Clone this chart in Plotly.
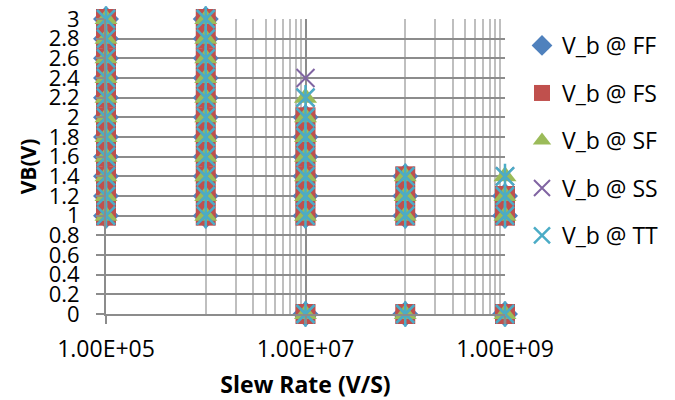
import plotly.graph_objects as go

# Slew rates (V/S) and the VB values (V) marked for each process corner
slew_rates = [1e5, 1e6, 1e7, 1e8, 1e9]

vb_ff = {
    1e5: [1.0, 1.2, 1.4, 1.6, 1.8, 2.0, 2.2, 2.4, 2.6, 2.8, 3.0],
    1e6: [1.0, 1.2, 1.4, 1.6, 1.8, 2.0, 2.2, 2.4, 2.6, 2.8, 3.0],
    1e7: [0.0, 1.0, 1.2, 1.4, 1.6, 1.8, 2.0],
    1e8: [0.0, 1.0, 1.2, 1.4],
    1e9: [0.0, 1.0, 1.2],
}
vb_fs = {
    1e5: [1.0, 1.2, 1.4, 1.6, 1.8, 2.0, 2.2, 2.4, 2.6, 2.8, 3.0],
    1e6: [1.0, 1.2, 1.4, 1.6, 1.8, 2.0, 2.2, 2.4, 2.6, 2.8, 3.0],
    1e7: [0.0, 1.0, 1.2, 1.4, 1.6, 1.8, 2.0],
    1e8: [0.0, 1.0, 1.2, 1.4],
    1e9: [0.0, 1.0, 1.2],
}
vb_sf = {
    1e5: [1.0, 1.2, 1.4, 1.6, 1.8, 2.0, 2.2, 2.4, 2.6, 2.8, 3.0],
    1e6: [1.0, 1.2, 1.4, 1.6, 1.8, 2.0, 2.2, 2.4, 2.6, 2.8, 3.0],
    1e7: [0.0, 1.0, 1.2, 1.4, 1.6, 1.8, 2.0, 2.2],
    1e8: [0.0, 1.0, 1.2, 1.4],
    1e9: [0.0, 1.0, 1.2, 1.4],
}
vb_ss = {
    1e5: [1.0, 1.2, 1.4, 1.6, 1.8, 2.0, 2.2, 2.4, 2.6, 2.8, 3.0],
    1e6: [1.0, 1.2, 1.4, 1.6, 1.8, 2.0, 2.2, 2.4, 2.6, 2.8, 3.0],
    1e7: [0.0, 1.0, 1.2, 1.4, 1.6, 1.8, 2.0, 2.2, 2.4],
    1e8: [0.0, 1.0, 1.2, 1.4],
    1e9: [0.0, 1.0, 1.2, 1.4],
}
vb_tt = {
    1e5: [1.0, 1.2, 1.4, 1.6, 1.8, 2.0, 2.2, 2.4, 2.6, 2.8, 3.0],
    1e6: [1.0, 1.2, 1.4, 1.6, 1.8, 2.0, 2.2, 2.4, 2.6, 2.8, 3.0],
    1e7: [0.0, 1.0, 1.2, 1.4, 1.6, 1.8, 2.0, 2.2],
    1e8: [0.0, 1.0, 1.2, 1.4],
    1e9: [0.0, 1.0, 1.2, 1.4],
}

series_names = ["V_b @ FF", "V_b @ FS", "V_b @ SF", "V_b @ SS", "V_b @ TT"]
series_data = [vb_ff, vb_fs, vb_sf, vb_ss, vb_tt]

x_tickvals = [1e5, 1e7, 1e9]
x_ticktext = ["1.00E+05", "1.00E+07", "1.00E+09"]
x_minorvals = [1e6, 2e6, 3e6, 4e6, 5e6, 6e6, 7e6, 8e6, 9e6,
               1e8, 2e8, 3e8, 4e8, 5e8, 6e8, 7e8, 8e8, 9e8]
y_tickvals = [0, 0.2, 0.4, 0.6, 0.8, 1, 1.2, 1.4, 1.6, 1.8, 2, 2.2, 2.4, 2.6, 2.8, 3]
y_ticktext = ["0", "0.2", "0.4", "0.6", "0.8", "1", "1.2", "1.4", "1.6", "1.8",
              "2", "2.2", "2.4", "2.6", "2.8", "3"]


def flatten(d):
    xs, ys = [], []
    for s in slew_rates:
        for v in d.get(s, []):
            xs.append(s)
            ys.append(v)
    return xs, ys


styles = [
    dict(symbol="diamond", size=20, color="#4F81BD"),
    dict(symbol="square", size=20, color="#C0504D"),
    dict(symbol="triangle-up", size=20, color="#9BBB59"),
    dict(symbol="x-thin-open", size=18, color="#8064A2", line=dict(width=2, color="#8064A2")),
    dict(symbol="x-thin-open", size=18, color="#4BACC6", line=dict(width=2.5, color="#4BACC6")),
]

FONT = "Open Sans"
fig = go.Figure()
for i, (name, d, st) in enumerate(zip(series_names, series_data, styles)):
    xs, ys = flatten(d)
    fig.add_trace(go.Scatter(x=xs, y=ys, mode="markers", name=name,
                             legendgroup=name, marker=st, cliponaxis=False))
    if i == 4:
        fig.add_trace(go.Scatter(x=xs, y=ys, mode="markers", name=name,
                                 legendgroup=name, showlegend=False,
                                 marker=dict(symbol="line-ns-open", size=18, color="#4BACC6",
                                             line=dict(width=2.5, color="#4BACC6")),
                                 cliponaxis=False))

fig.update_layout(
    width=675, height=400,
    margin=dict(l=106, r=169, t=19, b=86),
    paper_bgcolor="white", plot_bgcolor="white",
    font=dict(family=FONT, size=22, color="black"),
    showlegend=True,
    legend=dict(x=1.04, y=0.983, xanchor="left", yanchor="top",
                font=dict(family=FONT, size=23), traceorder="grouped",
                tracegroupgap=14.6, itemsizing="trace", bgcolor="rgba(0,0,0,0)"),
    xaxis=dict(type="log", range=[5, 9], tickvals=x_tickvals, ticktext=x_ticktext,
               tickfont=dict(family=FONT, size=23), automargin=False,
               showgrid=True, gridcolor="#8C8C8C", gridwidth=2,
               ticks="outside", ticklen=8, tickcolor="#8C8C8C", tickwidth=2,
               showline=True, linecolor="#8C8C8C", linewidth=2,
               ticklabelstandoff=5,
               minor=dict(tickvals=x_minorvals, showgrid=True, gridcolor="#BFBFBF", gridwidth=2, ticks=""),
               title=dict(text="<b>Slew Rate (V/S)</b>", font=dict(family=FONT, size=23), standoff=20),
               zeroline=False),
    yaxis=dict(range=[0, 3], tickvals=y_tickvals, ticktext=y_ticktext,
               tickfont=dict(family=FONT, size=22), automargin=False,
               showgrid=True, gridcolor="#8C8C8C", gridwidth=2,
               ticks="outside", ticklen=8, tickcolor="#8C8C8C", tickwidth=2,
               showline=True, linecolor="#8C8C8C", linewidth=2,
               ticklabelstandoff=12,
               title=dict(text="<b>VB(V)</b>", font=dict(family=FONT, size=21), standoff=6),
               zeroline=False),
)

fig.write_html("out.html")
